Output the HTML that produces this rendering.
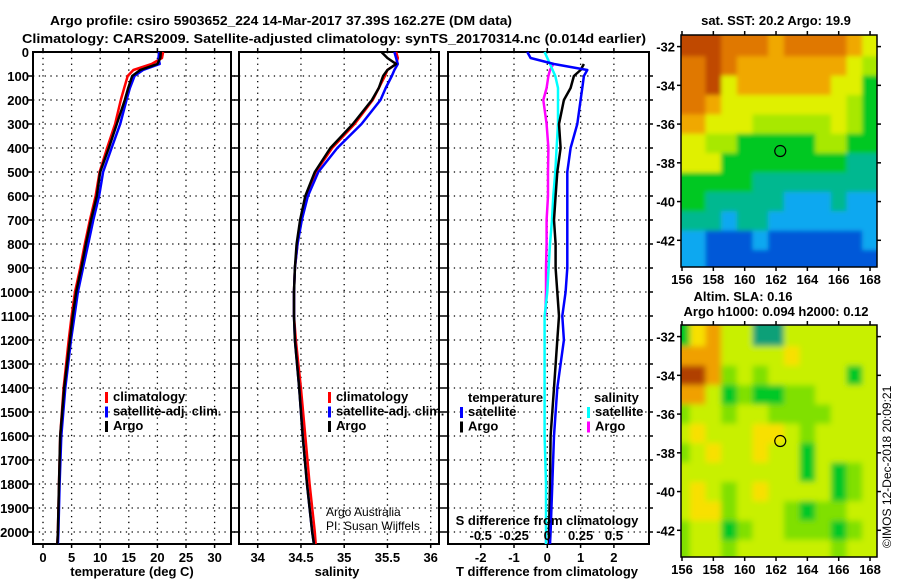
<!DOCTYPE html>
<html><head><meta charset="utf-8"><style>
html,body{margin:0;padding:0;background:#fff}
svg{display:block;font-family:"Liberation Sans",Arial,sans-serif}
.t{font-weight:bold;font-size:13px}
</style></head><body>
<svg id="c" width="900" height="580" viewBox="0 0 900 580" xmlns="http://www.w3.org/2000/svg">
<defs>
<filter id="blurSst" x="-10%" y="-10%" width="120%" height="120%"><feGaussianBlur stdDeviation="2"/></filter>
<filter id="blurSla" x="-10%" y="-10%" width="120%" height="120%"><feGaussianBlur stdDeviation="3"/></filter>
</defs>
<text x="281" y="25" text-anchor="middle" class="t" font-size="14" textLength="462" lengthAdjust="spacingAndGlyphs">Argo profile: csiro 5903652_224 14-Mar-2017 37.39S 162.27E (DM data)</text>
<text x="334" y="43" text-anchor="middle" class="t" font-size="14" textLength="624" lengthAdjust="spacingAndGlyphs">Climatology: CARS2009. Satellite-adjusted climatology: synTS_20170314.nc (0.014d earlier)</text>
</svg>
<script>
// ---------- data ----------
const depths = [0,25,50,75,100,150,200,300,400,500,600,700,800,900,1000,1100,1200,1400,1600,1800,2000,2050];
const tempArgo = [20.6,20.5,20.0,17.0,15.6,14.9,14.3,12.9,11.5,10.0,9.4,8.4,7.5,6.7,5.8,5.2,4.7,3.7,3.0,2.8,2.6,2.5];
const tempClim = [21.0,20.8,19.0,15.8,14.8,14.2,13.6,12.6,11.2,9.9,9.2,8.2,7.3,6.5,5.6,5.0,4.5,3.6,3.0,2.8,2.6,2.5];
const tempSat  = [20.3,20.2,20.4,17.5,16.0,15.2,14.6,13.5,12.0,10.5,9.8,8.8,7.9,7.0,6.1,5.5,4.9,3.9,3.2,2.9,2.7,2.6];
const salArgo = [35.43,35.5,35.6,35.5,35.45,35.4,35.32,35.1,34.84,34.66,34.55,34.49,34.45,34.43,34.42,34.42,34.43,34.48,34.52,34.57,34.63,34.65];
const salClim = [35.6,35.62,35.6,35.5,35.47,35.4,35.33,35.12,34.86,34.67,34.56,34.5,34.46,34.43,34.42,34.42,34.44,34.5,34.55,34.6,34.66,34.67];
const salSat  = [35.58,35.6,35.62,35.58,35.55,35.48,35.42,35.2,34.92,34.7,34.58,34.51,34.46,34.43,34.42,34.42,34.43,34.48,34.52,34.57,34.63,34.65];
const dTArgo = [null,null,1.1,1.0,0.8,0.7,0.5,0.35,0.4,0.3,0.25,0.2,0.25,0.25,0.3,0.35,0.3,0.2,0.1,0.08,0.05,0.05];
const dTSat  = [-0.6,-0.5,0.2,1.2,1.1,1.05,1.0,0.9,0.7,0.6,0.6,0.6,0.6,0.6,0.55,0.45,0.5,0.3,0.2,0.15,0.1,0.08];
const dSArgo = [null,null,0.045,0.02,0.008,-0.005,-0.03,-0.005,0.008,0.005,0.005,-0.005,-0.005,-0.01,-0.01,-0.015,null,null,null,null,-0.01,-0.01];
const dSSat  = [-0.02,0.0,0.02,0.04,0.06,0.08,0.08,0.08,0.07,0.06,0.045,0.035,0.02,0.01,0.0,-0.02,-0.02,-0.02,-0.02,-0.01,-0.01,-0.01];
const depthTicks = [0,100,200,300,400,500,600,700,800,900,1000,1100,1200,1300,1400,1500,1600,1700,1800,1900,2000];
const tempTicks = [0,5,10,15,20,25,30];
const salTicks = [34,34.5,35,35.5,36];
const dTTicks = [-2,-1,0,1,2];
const dSTicks = [-0.5,-0.25,0,0.25,0.5];
const lonTicks = [156,158,160,162,164,166,168];
const latTicks = [-32,-34,-36,-38,-40,-42];
const lats = [-32,-33,-34,-35,-36,-37,-38,-39,-40,-41,-42,-43];
const lons = [156,157,158,159,160,161,162,163,164,165,166,167,168];
const sstGrid = [
[8,8,8,7,7,7,6,7,7,7,7,6,5],
[7,7,8,7,6,6,6,6,6,6,6,5,4],
[7,7,8,5,6,6,6,6,6,6,5,5,3],
[7,7,6,5,5,5,5,5,5,5,5,4,3],
[6,6,5,5,5,4,4,4,4,4,5,4,3],
[5,5,4,4,3,3,3,3,3,4,4,3,3],
[5,5,5,3,3,3,3,3,3,3,3,2,2],
[3,3,3,3,3,2,2,2,2,2,2,2,2],
[3,3,2,2,2,2,2,1,1,1,2,1,1],
[2,2,2,1,2,2,1,1,1,1,1,1,1],
[1,1,0,0,0,1,0,0,0,0,0,0,1],
[1,1,0,0,0,0,0,0,0,0,0,0,0]];
const slaGrid = [
[1,4,5,3,3,0,0,3,3,3,3,3,3],
[5,5,5,3,3,3,3,4,3,3,3,3,3],
[6,6,5,2,3,2,3,3,3,3,3,1,3],
[5,5,3,1,2,1,1,2,2,3,3,3,3],
[2,3,3,2,3,3,2,2,2,2,3,3,3],
[3,4,3,3,3,4,4,3,2,3,3,3,3],
[2,3,4,3,3,4,3,3,1,3,3,3,3],
[3,3,3,3,3,3,3,3,1,3,1,2,3],
[3,4,3,2,3,4,3,3,3,3,1,2,3],
[3,4,4,2,3,3,3,2,1,2,2,3,3],
[2,3,3,1,2,3,3,2,2,2,1,2,3],
[2,3,3,2,3,3,3,3,3,3,2,3,3]];
const floatLon = 162.27, floatLat = -37.39;

// ---------- helpers ----------
const svg = document.getElementById('c');
const NS = 'http://www.w3.org/2000/svg';
function mk(tag, attrs, parent){const e=document.createElementNS(NS,tag);for(const k in attrs)e.setAttribute(k,attrs[k]);(parent||svg).appendChild(e);return e;}
const Y = d => 52 + d*0.24;
const yTop = 52, yBot = 544;

function panel(name, x0, x1, xf, ticks, fmt, showY){
  const g = mk('g',{});
  
  
  depthTicks.forEach(d=>{ if(d>0){
    const l=mk('line',{x1:x0,x2:x1,y1:Y(d),y2:Y(d),stroke:'#000','stroke-width':1.3,'stroke-dasharray':'1.3 4.5'},g);
     
    mk('line',{x1:x0-5,x2:x0,y1:Y(d),y2:Y(d),stroke:'#000','stroke-width':1.5},g);
    mk('line',{x1:x1,x2:x1+4,y1:Y(d),y2:Y(d),stroke:'#000','stroke-width':1.5},g);
  }});
  ticks.forEach(v=>{
    const x=xf(v);
    const l=mk('line',{x1:x,x2:x,y1:yTop,y2:yBot,stroke:'#000','stroke-width':1.3,'stroke-dasharray':'1.3 4.5'},g);
     
    mk('line',{x1:x,x2:x,y1:yBot,y2:yBot+4,stroke:'#000','stroke-width':1.5},g);
    mk('line',{x1:x,x2:x,y1:yTop-4,y2:yTop,stroke:'#000','stroke-width':1.5},g);
    const t=mk('text',{x:x,y:562,'text-anchor':'middle','class':'t'},g);
    t.textContent=fmt(v);
     
  });
  if(showY){
    depthTicks.forEach(d=>{
      const t=mk('text',{x:29,y:Y(d)+5,'text-anchor':'end','class':'t'},g);
      t.textContent=d;
       
    });
  }
  const r=mk('rect',{x:x0,y:yTop,width:x1-x0,height:yBot-yTop,fill:'none',stroke:'#000','stroke-width':2},g);
   
  return g;
}
function line(g, vals, xf, color, name, w){
  let pts=[], segs=[];
  vals.forEach((v,i)=>{ if(v===null){ if(pts.length) segs.push(pts); pts=[]; } else pts.push(xf(v).toFixed(1)+','+Y(depths[i]).toFixed(1)); });
  if(pts.length) segs.push(pts);
  segs.forEach(s=>{
    const p=mk('polyline',{points:s.join(' '),fill:'none',stroke:color,'stroke-width':w||2.5,'stroke-linejoin':'round'},g);
    
    
  });
}
function legend(g, x, y, items){
  items.forEach((it,i)=>{
    const yy=y+i*14.5;
    mk('rect',{x:x,y:yy-9,width:3,height:11,fill:it[1]},g);
    const t=mk('text',{x:x+8,y:yy,'class':'t','font-size':12},g);
    t.textContent=it[0];
     
  });
}
function label(txt,x,y,name,extra){
  const t=mk('text',Object.assign({x:x,y:y,'text-anchor':'middle','class':'t'},extra||{}));
  t.textContent=txt;
   
  return t;
}

// ---------- panel 1: temperature ----------
const xT = v => 43 + v*5.72;
const g1 = panel('temperature-panel',33,231,xT,tempTicks,v=>v,true);
line(g1,tempClim,xT,'#f00','climatology-temp-line');
line(g1,tempSat,xT,'#00f','satellite-temp-line');
line(g1,tempArgo,xT,'#000','argo-temp-line');
legend(g1,105,401,[['climatology','#f00'],['satellite-adj. clim.','#00f'],['Argo','#000']]);
label('temperature (deg C)',132,576,'x-axis-title-temperature');

// ---------- panel 2: salinity ----------
const xS = v => 257.7 + (v-34)*86.5;
const g2 = panel('salinity-panel',239,439,xS,salTicks,v=>v,false);
line(g2,salClim,xS,'#f00','climatology-sal-line');
line(g2,salSat,xS,'#00f','satellite-sal-line');
line(g2,salArgo,xS,'#000','argo-sal-line');
legend(g2,328,401,[['climatology','#f00'],['satellite-adj. clim.','#00f'],['Argo','#000']]);
label('salinity',337,576,'x-axis-title-salinity');
const a1=mk('text',{x:326,y:516,'font-size':12});a1.textContent='Argo Australia';
 
const a2=mk('text',{x:326,y:530,'font-size':12});a2.textContent='PI: Susan Wijffels';
 

// ---------- panel 3: differences ----------
const xD = v => 547.3 + v*33.3;
const xDS = v => 547.3 + v*133.2;
const g3 = panel('difference-panel',448,649,xD,dTTicks,v=>v,false);
line(g3,dSArgo,xDS,'#f0f','argo-sal-diff-line');
line(g3,dSSat,xDS,'#0ff','satellite-sal-diff-line');
line(g3,dTArgo,xD,'#000','argo-temp-diff-line');
line(g3,dTSat,xD,'#00f','satellite-temp-diff-line');
const lt=mk('text',{x:468,y:402,'class':'t','font-size':12},g3);lt.textContent='temperature';
 
legend(g3,460,416,[['satellite','#00f'],['Argo','#000']]);
const ls=mk('text',{x:594,y:402,'class':'t','font-size':12},g3);ls.textContent='salinity';
 
legend(g3,587,416,[['satellite','#0ff'],['Argo','#f0f']]);
label('S difference from climatology',547,525,'s-axis-title',{'font-size':12});
dSTicks.forEach(v=>{
  const t=mk('text',{x:xDS(v),y:540,'text-anchor':'middle','class':'t','font-size':12});
  t.textContent=v;  
});
label('T difference from climatology',547,576,'x-axis-title-t-diff');

// ---------- maps ----------
const sstColors=['#0058d8','#10a8f0','#00b890','#00c820','#a8e800','#e0f000','#f0a800','#e07800','#c04800'];
const slaColors=['#10a078','#00c828','#80e000','#c8f000','#f8e000','#f0a000','#b04000'];
function map(name, top, grid, colors, title, blurId){
  const g=mk('g',{});
  
  
  const xL = lon => 682 + (lon-156)*15.67;
  const yL = lat => top + 11.6 + (-32-lat)*19.37;
  const x0=681, x1=877, y0=top, y1=top+232;
  const cp=mk('clipPath',{id:'cp'+top},g);
  mk('rect',{x:x0,y:y0,width:x1-x0,height:y1-y0},cp);
  const outer=mk('g',{'clip-path':'url(#cp'+top+')'},g);
  const cg=mk('g',{filter:'url(#'+blurId+')'},outer);
  grid.forEach((row,i)=>row.forEach((v,j)=>{
    const ext = (j===0?12:0), extR=(j===row.length-1?12:0), extT=(i===0?12:0), extB=(i===grid.length-1?12:0);
    const r=mk('rect',{x:xL(lons[j]-0.5)-ext,y:yL(lats[i]+0.5)-extT,width:15.67+0.6+ext+extR,height:19.37+0.6+extT+extB,fill:colors[v]},cg);
    
    
  }));
  const c=mk('circle',{cx:xL(floatLon),cy:yL(floatLat),r:5.5,fill:'none',stroke:'#000','stroke-width':1.2},g);
   
  mk('rect',{x:x0,y:y0,width:x1-x0,height:y1-y0,fill:'none',stroke:'#000','stroke-width':1.5},g);
  lonTicks.forEach(v=>{
    mk('line',{x1:xL(v),x2:xL(v),y1:y1,y2:y1+4,stroke:'#000','stroke-width':1.5},g);
    mk('line',{x1:xL(v),x2:xL(v),y1:y0-4,y2:y0,stroke:'#000','stroke-width':1.5},g);
    const t=mk('text',{x:xL(v),y:y1+17,'text-anchor':'middle','class':'t'},g);t.textContent=v;
     
  });
  latTicks.forEach(v=>{
    mk('line',{x1:x0-4,x2:x0,y1:yL(v),y2:yL(v),stroke:'#000','stroke-width':1.5},g);
    mk('line',{x1:x1,x2:x1+4,y1:yL(v),y2:yL(v),stroke:'#000','stroke-width':1.5},g);
    const t=mk('text',{x:x0-6,y:yL(v)+5,'text-anchor':'end','class':'t'},g);t.textContent=v;
     
  });
  title.forEach((s,i)=>{
    const t=mk('text',{x:s[1],y:s[2],'text-anchor':'middle','class':'t','font-size':12},g);t.textContent=s[0];
     
  });
}
map('sst-map',35,sstGrid,sstColors,[['sat. SST: 20.2 Argo: 19.9',776,25]],'blurSst');
map('sla-map',325,slaGrid,slaColors,[['Altim. SLA: 0.16',743,301],['Argo h1000: 0.094 h2000: 0.12',776,316]],'blurSla');
const cp=mk('text',{x:0,y:0,'font-size':12,transform:'translate(891,548) rotate(-90)'});
cp.textContent='©IMOS 12-Dec-2018 20:09:21';
 
</script>
</body></html>
